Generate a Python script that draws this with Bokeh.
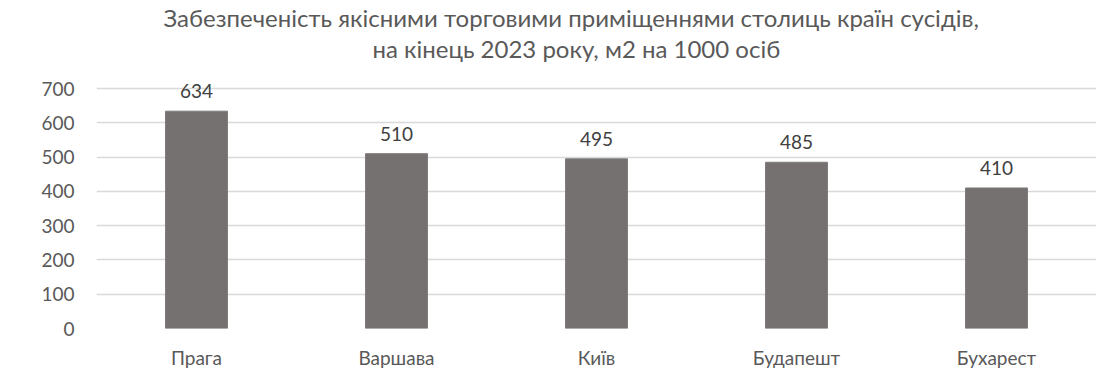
from bokeh.plotting import figure
from bokeh.models import ColumnDataSource, Title, FixedTicker, Range1d
from bokeh.embed import file_html
from bokeh.resources import INLINE
from bokeh.core.properties import value

cities = ["Прага", "Варшава", "Київ", "Будапешт", "Бухарест"]
values = [634, 510, 495, 485, 410]
y_ticks = [0, 100, 200, 300, 400, 500, 600, 700]
title_line1 = "Забезпеченість якісними торговими приміщеннями столиць країн сусідів,"
title_line2 = "на кінець 2023 року, м2 на 1000 осіб"

FONT = "Lato"
TXT = "#595959"

src = ColumnDataSource(dict(city=cities, val=values, lab=[str(v) for v in values]))

# frame top sits above the 700 gridline to leave room under the title
p = figure(x_range=cities, y_range=Range1d(0, 776), width=1105, height=380,
           output_backend="svg", toolbar_location=None,
           min_border_left=96, min_border_right=9, min_border_bottom=52, min_border_top=61)
p.outline_line_color = None
p.background_fill_color = "white"
p.border_fill_color = "white"

p.vbar(x="city", top="val", width=0.31, source=src, fill_color="#767171", line_color="#807c7c")
p.text(x="city", y="val", text="lab", source=src, text_align="center", text_baseline="bottom",
       y_offset=-13, text_font=value(FONT), text_font_size="19px", text_color="#404040")

p.xgrid.grid_line_color = None
p.ygrid.grid_line_color = "#d9d9d9"
p.ygrid.grid_line_width = 1.5
p.yaxis.ticker = FixedTicker(ticks=y_ticks)

for ax in (p.xaxis, p.yaxis):
    ax.axis_line_color = None
    ax.major_tick_line_color = None
    ax.minor_tick_line_color = None
    ax.major_label_text_font = FONT
    ax.major_label_text_font_size = "19px"
    ax.major_label_text_color = TXT
p.yaxis.major_label_standoff = 16
p.xaxis.major_label_standoff = 11

t2 = Title(text=title_line2, align="left", offset=276, text_font=FONT, text_font_size="24px",
           text_color=TXT, text_font_style="normal", standoff=0)
t1 = Title(text=title_line1, align="left", offset=67, text_font=FONT, text_font_size="24px",
           text_color=TXT, text_font_style="normal", standoff=0)
p.add_layout(t2, "above")
p.add_layout(t1, "above")

open("out.html", "w").write(file_html(p, INLINE))
